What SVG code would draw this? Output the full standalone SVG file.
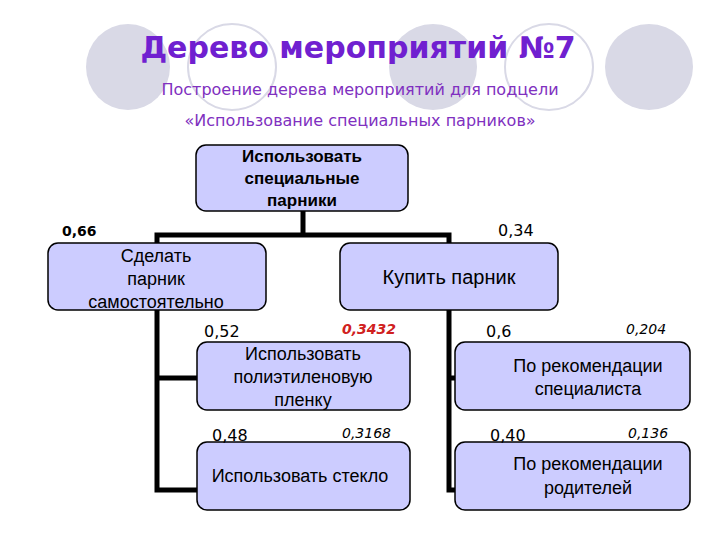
<svg xmlns="http://www.w3.org/2000/svg" width="720" height="540" viewBox="0 0 720 540">
<style>
.fill{fill:#d9d9e6}
.ring{fill:none;stroke:#d9d9e6;stroke-width:2}
.box{fill:#ccccff;stroke:#000;stroke-width:1.5}
.t{font-family:"Liberation Sans",Arial,sans-serif;font-size:18px;text-anchor:middle;fill:#000}
.b{font-weight:bold;font-size:17px}
.n{font-family:"DejaVu Sans",sans-serif;font-size:16px;fill:#000}
.i{font-style:italic;font-size:14px}
.c{stroke:#000;stroke-width:5;fill:none}
</style>
<rect width="720" height="540" fill="#fff"/>
<ellipse class="fill" cx="128" cy="67" rx="42" ry="43"/>
<ellipse class="ring" cx="232" cy="67" rx="44" ry="43"/>
<ellipse class="fill" cx="433" cy="67" rx="44" ry="43"/>
<ellipse class="ring" cx="549" cy="67" rx="44" ry="43"/>
<ellipse class="fill" cx="649" cy="67" rx="44" ry="43"/>
<text x="358" y="58" font-family="'Comic Sans MS','DejaVu Sans',sans-serif" font-weight="bold" font-size="30" fill="#7020d0" text-anchor="middle">Дерево мероприятий №7</text>
<text x="360" y="95" font-family="'DejaVu Sans',sans-serif" font-size="16" fill="#8030c0" text-anchor="middle">Построение дерева мероприятий для подцели</text>
<text x="360" y="126" font-family="'DejaVu Sans',sans-serif" font-size="16" fill="#8030c0" text-anchor="middle">«Использование специальных парников»</text>
<g id="connectors">
<path class="c" d="M303 210V235M157 243V235H449V243"/>
<path class="c" d="M157 310V490H200M157 378H200"/>
<path class="c" d="M449 310V490H456M449 378H456"/>
</g>
<g id="root"><rect class="box" x="196" y="145" width="212" height="66" rx="10"/>
<text class="t b" x="302" y="162">Использовать</text><text class="t b" x="302" y="184">специальные</text><text class="t b" x="302" y="206">парники</text></g>
<g id="make"><rect class="box" x="48" y="243" width="218" height="67" rx="10"/>
<text class="t" x="156" y="262">Сделать</text><text class="t" x="156" y="285">парник</text><text class="t" x="156" y="308">самостоятельно</text></g>
<g id="buy"><rect class="box" x="340" y="243" width="218" height="67" rx="10"/>
<text class="t" x="449" y="284" style="font-size:20px">Купить парник</text></g>
<g id="film"><rect class="box" x="197" y="342" width="213" height="68" rx="10"/>
<text class="t" x="303" y="360">Использовать</text><text class="t" x="303" y="383">полиэтиленовую</text><text class="t" x="303" y="406">пленку</text></g>
<g id="glass"><rect class="box" x="197" y="442" width="213" height="68" rx="10"/>
<text class="t" x="300" y="482">Использовать стекло</text></g>
<g id="spec"><rect class="box" x="455" y="342" width="235" height="68" rx="10"/>
<text class="t" x="588" y="372">По рекомендации</text><text class="t" x="588" y="395">специалиста</text></g>
<g id="par"><rect class="box" x="455" y="442" width="235" height="68" rx="10"/>
<text class="t" x="588" y="470">По рекомендации</text><text class="t" x="588" y="494">родителей</text></g>
<g id="weights">
<text class="n" x="62" y="236" style="font-weight:bold;font-size:14px">0,66</text>
<text class="n" x="498" y="236">0,34</text>
<text class="n" x="204" y="337">0,52</text>
<text class="n i" x="342" y="334" style="fill:#d02020;font-weight:bold">0,3432</text>
<text class="n" x="486" y="337">0,6</text>
<text class="n i" x="626" y="334">0,204</text>
<text class="n" x="212" y="441">0,48</text>
<text class="n i" x="342" y="438">0,3168</text>
<text class="n" x="490" y="441">0,40</text>
<text class="n i" x="628" y="438">0,136</text>
</g>
</svg>
